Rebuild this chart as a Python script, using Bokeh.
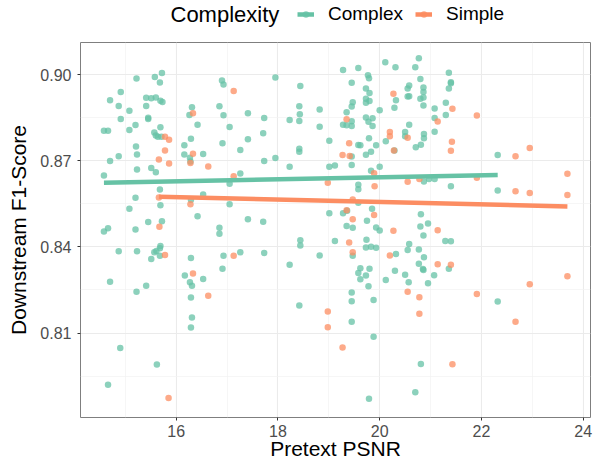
from bokeh.plotting import figure
from bokeh.layouts import column
from bokeh.models import Range1d, FixedTicker, Legend, LegendItem, Label, NumeralTickFormatter
from bokeh.embed import file_html
from bokeh.resources import INLINE

# ---- data ----
complex_x = [15.72, 15.58, 15.22, 15.68, 14.91, 14.70, 15.41, 15.51, 15.60, 15.69, 15.73, 14.87, 15.41, 16.31,
             15.08, 16.26, 14.91, 15.45, 15.45, 16.42, 15.20, 15.69, 14.58, 14.66, 15.08, 15.57, 15.60, 15.64,
             15.71, 16.29, 16.16, 15.21, 14.87, 15.23, 16.16, 16.53, 14.70, 16.28, 16.27, 15.51, 15.60, 15.23,
             14.58, 15.68, 16.53, 15.20, 16.29, 15.69, 15.08, 16.42, 15.45, 15.72, 14.66, 15.20,
             14.58, 15.69, 15.68, 14.87, 15.23, 15.57, 15.61, 15.68, 15.51, 16.29, 14.70, 16.17, 16.27, 16.31,
             16.53, 15.41, 15.22, 16.29, 16.31, 16.29, 14.90, 15.62, 14.66,
             16.90, 16.93, 17.95, 18.44, 16.85, 16.93, 17.41, 17.73, 18.42, 18.43, 18.42, 18.23, 18.82, 18.82,
             17.05, 17.41, 17.71, 16.91, 17.26, 18.42, 18.42, 17.95, 17.73, 18.23, 17.26, 17.05, 17.05, 17.41,
             17.71, 16.85,
             16.85, 18.44, 18.44, 16.93, 17.26, 17.73, 18.23, 18.82, 16.91, 18.42,
             19.28, 19.58, 20.11, 20.31, 20.70, 20.77, 20.80, 21.36, 21.40, 21.40, 21.36, 19.77, 19.79, 19.45,
             19.73, 19.80, 20.55, 20.58, 20.86, 20.86, 20.86, 20.86, 20.80, 20.55, 20.58, 20.32, 20.29, 19.73,
             19.80, 19.73, 19.47, 19.45, 20.00, 19.35, 19.73, 19.86, 19.78, 19.45, 19.28, 19.35, 19.45, 19.86,
             20.58, 21.08, 21.30, 21.30, 21.08, 21.08, 20.87, 20.87, 20.50, 20.50, 19.79, 19.01, 19.58, 19.62,
             19.93, 20.12, 20.29, 20.71, 20.81, 19.83, 19.73, 19.45, 19.01, 19.12, 19.45, 20.00, 19.83, 20.87,
             20.97, 21.08, 21.40, 19.58, 19.58, 19.58, 19.01, 19.28, 19.36, 19.85, 19.75, 20.81, 20.95,
             19.35, 19.47, 19.93, 20.00, 20.80, 20.86, 19.12, 19.74, 19.73, 19.83, 19.93, 19.47, 20.32, 20.58,
             20.55, 20.77, 20.87, 21.29, 21.40, 20.77, 20.85, 20.86, 21.36, 21.07, 20.95, 20.50, 20.57, 20.30,
             20.12, 19.62, 19.80, 19.58, 19.73, 19.62, 19.78, 19.45, 19.45, 19.88, 19.45, 19.88, 20.81, 20.70,
             19.79,
             22.32, 22.32, 22.32]
complex_y = [0.9006, 0.8992, 0.8987, 0.8973, 0.8940, 0.8911, 0.8920, 0.8918, 0.8921, 0.8909, 0.8905, 0.8891,
             0.8891, 0.8887, 0.8874, 0.8860, 0.8846, 0.8850, 0.8846, 0.8826, 0.8825, 0.8817, 0.8805, 0.8805,
             0.8807, 0.8799, 0.8788, 0.8784, 0.8784, 0.8777, 0.8754, 0.8750, 0.8716, 0.8722, 0.8722, 0.8724,
             0.8699, 0.8698, 0.8711, 0.8675, 0.8660, 0.8670, 0.8649, 0.8600, 0.8583, 0.8571, 0.8564, 0.8545,
             0.8533, 0.8507, 0.8487, 0.8489, 0.8465, 0.8461,
             0.8454, 0.8403, 0.8395, 0.8385, 0.8385, 0.8381, 0.8386, 0.8369, 0.8358, 0.8361, 0.8279, 0.8300,
             0.8277, 0.8265, 0.8288, 0.8265, 0.8244, 0.8224, 0.8154, 0.8119, 0.8048, 0.7990, 0.7920,
             0.8980, 0.8966, 0.8990, 0.8961, 0.8890, 0.8859, 0.8866, 0.8849, 0.8890, 0.8862, 0.8839, 0.8842,
             0.8879, 0.8819, 0.8818, 0.8775, 0.8796, 0.8761, 0.8738, 0.8742, 0.8732, 0.8710, 0.8699, 0.8679,
             0.8656, 0.8620, 0.8549, 0.8496, 0.8488, 0.8467,
             0.8446, 0.8423, 0.8405, 0.8369, 0.8381, 0.8379, 0.8338, 0.8370, 0.8324, 0.8196,
             0.9016, 0.9023, 0.9043, 0.9026, 0.9026, 0.9057, 0.8985, 0.9007, 0.8974, 0.8970, 0.8952, 0.8998,
             0.8988, 0.8972, 0.8952, 0.8936, 0.8952, 0.8962, 0.8955, 0.8940, 0.8921, 0.8893, 0.8916, 0.8924,
             0.8925, 0.8911, 0.8885, 0.8916, 0.8908, 0.8902, 0.8904, 0.8889, 0.8876, 0.8869, 0.8851, 0.8848,
             0.8836, 0.8838, 0.8826, 0.8824, 0.8821, 0.8821, 0.8826, 0.8882, 0.8902, 0.8860, 0.8849, 0.8801,
             0.8793, 0.8779, 0.8800, 0.8786, 0.8779, 0.8770, 0.8755, 0.8754, 0.8754, 0.8768, 0.8736, 0.8747,
             0.8756, 0.8732, 0.8721, 0.8715, 0.8679, 0.8684, 0.8685, 0.8679, 0.8665, 0.8628, 0.8637, 0.8637,
             0.8611, 0.8617, 0.8601, 0.8554, 0.8517, 0.8517, 0.8526, 0.8533, 0.8491, 0.8514, 0.8482,
             0.8473, 0.8467, 0.8468, 0.8457, 0.8471, 0.8440, 0.8421, 0.8425, 0.8398, 0.8401, 0.8397, 0.8369,
             0.8375, 0.8410, 0.8389, 0.8391, 0.8364, 0.8421, 0.8420, 0.8341, 0.8323, 0.8320, 0.8324, 0.8301,
             0.8273, 0.8303, 0.8277, 0.8317, 0.8285, 0.8326, 0.8324, 0.8309, 0.8300, 0.8287, 0.8263, 0.8241,
             0.8211, 0.8215, 0.8139, 0.8087, 0.7992, 0.7894, 0.7871,
             0.8720, 0.8597, 0.8210]

simple_x = [16.33, 15.78, 15.86, 15.78, 16.33, 15.66, 15.86, 16.28, 16.63, 15.66, 16.28, 15.67,
            15.78, 16.33, 16.63, 15.85,
            17.13, 17.13, 17.13,
            19.35, 19.40, 19.27, 19.41, 20.27, 20.20, 20.20, 20.55, 20.28, 21.14, 21.43, 21.42, 21.40, 19.89,
            19.90, 18.98, 20.55, 20.78, 19.47, 19.35, 19.89, 19.47,
            20.27, 21.14, 19.40, 19.47, 20.20, 21.14, 21.40, 20.55, 20.78, 20.78, 18.98, 18.98, 19.27, 21.43,
            21.91, 22.95, 22.67, 23.69, 21.91, 22.67, 22.95, 23.69, 21.91, 22.95, 23.69, 22.67]
simple_y = [0.8866, 0.8784, 0.8773, 0.8736, 0.8725, 0.8705, 0.8691, 0.8692, 0.8680, 0.8572, 0.8549, 0.8470,
            0.8372, 0.8307, 0.8230, 0.7874,
            0.8943, 0.8646, 0.8369,
            0.8845, 0.8761, 0.8720, 0.8717, 0.8934, 0.8800, 0.8786, 0.8780, 0.8736, 0.8837, 0.8881, 0.8766,
            0.8735, 0.8657, 0.8611, 0.8624, 0.8627, 0.8637, 0.8565, 0.8528, 0.8511, 0.8496,
            0.8456, 0.8458, 0.8415, 0.8381, 0.8370, 0.8340, 0.8338, 0.8244, 0.8225, 0.8167, 0.8175, 0.8120,
            0.8050, 0.7991,
            0.8858, 0.8745, 0.8716, 0.8655, 0.8641, 0.8594, 0.8588, 0.8581, 0.8236, 0.8270, 0.8298, 0.8139]

# linear trend lines (end points)
complex_fit_x = [14.58, 22.32]
complex_fit_y = [0.8624, 0.8651]
simple_fit_x = [15.66, 23.69]
simple_fit_y = [0.8575, 0.8541]

x_ticks = [16, 18, 20, 22, 24]
x_minor = [15, 17, 19, 21, 23]
y_ticks = [0.81, 0.84, 0.87, 0.90]
y_minor = [0.795, 0.825, 0.855, 0.885]

legend_title = "Complexity"
series_names = ["Complex", "Simple"]

GREEN = "#66C2A5"
ORANGE = "#FC8D62"
FONT = "Liberation Sans"
NAN = float("nan")

# ---------------- main plot ----------------
p = figure(width=600, height=421, output_backend="svg", toolbar_location=None,
           x_range=Range1d(14.119, 24.144), y_range=Range1d(0.78057, 0.91122),
           min_border_left=80, min_border_right=10, min_border_top=1, min_border_bottom=44,
           background_fill_color="white", border_fill_color="white")

cs = p.scatter(complex_x, complex_y, size=6.5, fill_color=GREEN, fill_alpha=0.75, line_color=None)
ss = p.scatter(simple_x, simple_y, size=6.5, fill_color=ORANGE, fill_alpha=0.75, line_color=None)
cl = p.line(complex_fit_x, complex_fit_y, line_color=GREEN, line_width=4.5)
sl = p.line(simple_fit_x, simple_fit_y, line_color=ORANGE, line_width=4.5)

p.xaxis.ticker = FixedTicker(ticks=x_ticks, minor_ticks=x_minor)
p.yaxis.ticker = FixedTicker(ticks=y_ticks, minor_ticks=y_minor)
p.yaxis.formatter = NumeralTickFormatter(format="0.00")

for ax in (p.xaxis[0], p.yaxis[0]):
    ax.axis_line_color = None
    ax.major_tick_line_color = "#333333"
    ax.major_tick_out = 3
    ax.major_tick_in = 0
    ax.minor_tick_line_color = None
    ax.major_label_text_font = FONT
    ax.major_label_text_font_size = "16px"
    ax.major_label_text_color = "#4D4D4D"
    ax.axis_label_text_font = FONT
    ax.axis_label_text_font_size = "21px"
    ax.axis_label_text_font_style = "normal"
    ax.axis_label_text_color = "black"
p.xaxis.major_label_standoff = 3
p.xaxis.axis_label_standoff = -3
p.yaxis.major_label_standoff = 5
p.yaxis.axis_label_standoff = 7

p.xaxis.axis_label = "Pretext PSNR"
p.yaxis.axis_label = "Downstream F1-Score"

for g in (p.xgrid[0], p.ygrid[0]):
    g.grid_line_color = "#EBEBEB"
    g.grid_line_width = 1.1
    g.minor_grid_line_color = "#F2F2F2"
    g.minor_grid_line_width = 0.7

p.outline_line_color = "#7f7f7f"
p.outline_line_width = 1

# ---------------- legend strip above the plot ----------------
h = figure(width=600, height=41, output_backend="svg", toolbar_location=None,
           x_range=Range1d(0, 1), y_range=Range1d(0, 1),
           x_axis_type=None, y_axis_type=None, min_border=0,
           outline_line_color=None, background_fill_color="white", border_fill_color="white")
h.xgrid.visible = False
h.ygrid.visible = False

# proxy renderers (no visible data) that only carry the legend key styles
kc_l = h.line([NAN, NAN], [NAN, NAN], line_color=GREEN, line_width=4.5)
kc_s = h.scatter([NAN], [NAN], size=6.5, fill_color=GREEN, fill_alpha=0.75, line_color=None)
ks_l = h.line([NAN, NAN], [NAN, NAN], line_color=ORANGE, line_width=4.5)
ks_s = h.scatter([NAN], [NAN], size=6.5, fill_color=ORANGE, fill_alpha=0.75, line_color=None)

legend = Legend(items=[LegendItem(label=series_names[0], renderers=[kc_l, kc_s]),
                       LegendItem(label=series_names[1], renderers=[ks_l, ks_s])],
                orientation="horizontal", location=(217, 16),
                glyph_width=17, glyph_height=16, label_standoff=14, spacing=12,
                padding=0, margin=0, border_line_color=None, background_fill_alpha=0,
                label_text_font=FONT, label_text_font_size="19px", label_text_color="black")
h.add_layout(legend, "center")

h.add_layout(Label(x=90, y=27, x_units="screen", y_units="screen", text=legend_title,
                   text_font=FONT, text_font_size="22px", text_color="black",
                   text_baseline="middle", text_align="left"))

page = column(h, p, spacing=0)
open("out.html", "w").write(file_html(page, INLINE))
